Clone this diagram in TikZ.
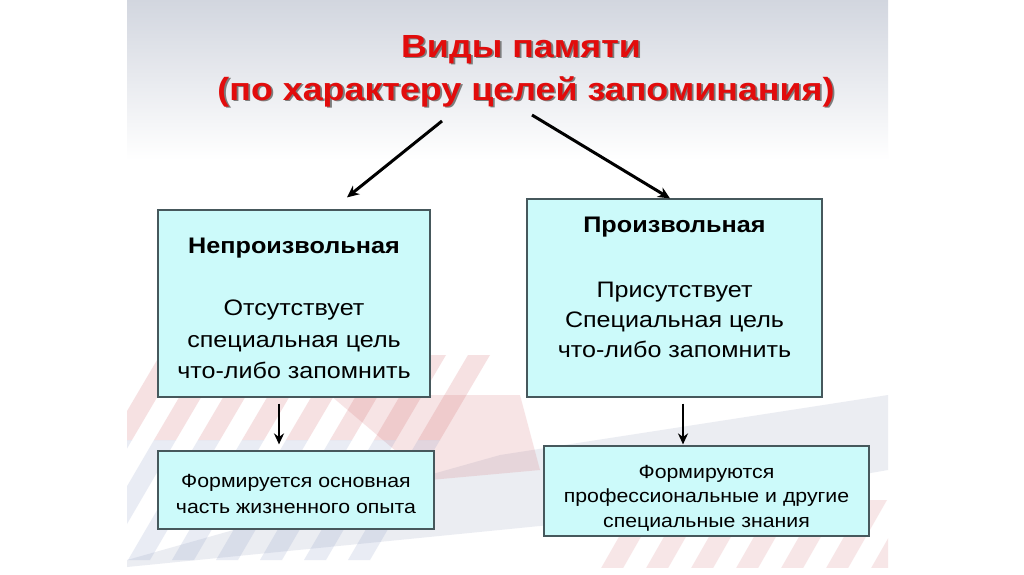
\documentclass[tikz,border=0pt]{standalone}
\usepackage{fontspec}
\setmainfont{Liberation Sans}[FakeStretch=1.12]
\usetikzlibrary{arrows.meta}
\definecolor{titlered}{RGB}{226,12,12}
\definecolor{shadowgray}{RGB}{125,125,125}
\definecolor{boxfill}{RGB}{204,250,250}
\definecolor{boxline}{RGB}{70,88,92}
\definecolor{slidetop}{RGB}{210,214,223}
\definecolor{stripered}{RGB}{205,80,85}
\definecolor{stripeblue}{RGB}{110,130,185}
\definecolor{bandgray}{RGB}{190,198,215}
\newcommand\shadowed[1]{\rlap{\kern1.8pt\raisebox{-1.8pt}{\textcolor{shadowgray}{#1}}}#1}
\begin{document}
\begin{tikzpicture}[x=1pt,y=-1pt,
  membox/.style={draw=boxline, line width=1.2pt, fill=boxfill, rectangle, inner sep=0pt},
  titletext/.style={font=\bfseries\fontsize{32}{38}\selectfont, text=titlered, inner sep=0pt, anchor=base},
  headtext/.style={font=\bfseries\fontsize{22.5}{26}\selectfont, inner sep=0pt, anchor=base},
  bodytext/.style={font=\fontsize{22.4}{26}\selectfont, inner sep=0pt, anchor=base},
  smalltext/.style={font=\fontsize{19}{22}\selectfont, inner sep=0pt, anchor=base},
  arr/.style={line width=3pt, -{Stealth[length=12pt,width=11pt]}},
  arrdown/.style={line width=2.6pt, -{Stealth[length=11pt,width=10pt]}}]
\useasboundingbox (0,0) rectangle (1024,574);
\fill[white] (0,0) rectangle (1024,574);
% slide background
\begin{scope}
\clip (127,0) rectangle (888,567);
\fill[white] (127,0) rectangle (888,567);
\shade[top color=slidetop, bottom color=white] (127,0) rectangle (888,160);
% pale bluish band
\fill[bandgray, opacity=0.3] (127,560) -- (500,455) -- (888,395) -- (888,470) -- (600,520) -- (127,567) -- cycle;
% pink strand
\fill[stripered, opacity=0.15] (330,395) -- (520,395) -- (540,470) -- (430,480) -- cycle;
% rungs bottom-left
\foreach \i in {0,...,7} {
  \pgfmathsetmacro{\xa}{40+44*\i}
  \fill[stripeblue, opacity=0.15] (\xa,560) -- (\xa+22,560) -- (\xa+22+70,440) -- (\xa+70,440) -- cycle;
  \fill[stripered, opacity=0.17] (\xa+70,440) -- (\xa+22+70,440) -- (\xa+22+120,355) -- (\xa+120,355) -- cycle;
}
% rungs bottom-right
\foreach \i in {0,...,6} {
  \pgfmathsetmacro{\xb}{600+45*\i}
  \fill[stripered, opacity=0.14] (\xb,570) -- (\xb+22,570) -- (\xb+22+40,500) -- (\xb+40,500) -- cycle;
}
\end{scope}
% title
\node[titletext] (title1) at (521,57) {\shadowed{Виды памяти}};
\node[titletext] (title2) at (526,100) {\shadowed{(по характеру целей запоминания)}};
% boxes
\node[membox, minimum width=272pt, minimum height=187pt] (b1) at (294,303.5) {};
\node[membox, minimum width=295pt, minimum height=198pt] (b2) at (674.5,298) {};
\node[membox, minimum width=276pt, minimum height=78pt] (b3) at (296,490) {};
\node[membox, minimum width=325pt, minimum height=90pt] (b4) at (706.5,491) {};
% box texts
\node[headtext] (b1h) at (294,253) {Непроизвольная};
\node[bodytext] (b1a) at (294,315) {Отсутствует};
\node[bodytext] (b1b) at (294,347) {специальная цель};
\node[bodytext] (b1c) at (294,378) {что-либо запомнить};
\node[headtext] (b2h) at (674.5,232) {Произвольная};
\node[bodytext] (b2a) at (674.5,297) {Присутствует};
\node[bodytext] (b2b) at (674.5,327) {Специальная цель};
\node[bodytext] (b2c) at (674.5,357) {что-либо запомнить};
\node[smalltext] (b3a) at (296,487) {Формируется основная};
\node[smalltext] (b3b) at (296,513) {часть жизненного опыта};
\node[smalltext] (b4a) at (706.5,478) {Формируются};
\node[smalltext] (b4b) at (706.5,502.5) {профессиональные и другие};
\node[smalltext] (b4c) at (706.5,527) {специальные знания};
% arrows
\coordinate (s1) at (442,121);
\coordinate (s2) at (532,115);
\draw[arr] (s1) -- ([xshift=53pt,yshift=12pt]b1.north);
\draw[arr] (s2) -- ([xshift=-4.5pt]b2.north);
\draw[arrdown] ([xshift=-15pt,yshift=-6pt]b1.south) -- ([xshift=-17pt,yshift=6pt]b3.north);
\draw[arrdown] ([xshift=8.5pt,yshift=-6pt]b2.south) -- ([xshift=-23.5pt,yshift=1pt]b4.north);
\end{tikzpicture}
\end{document}
